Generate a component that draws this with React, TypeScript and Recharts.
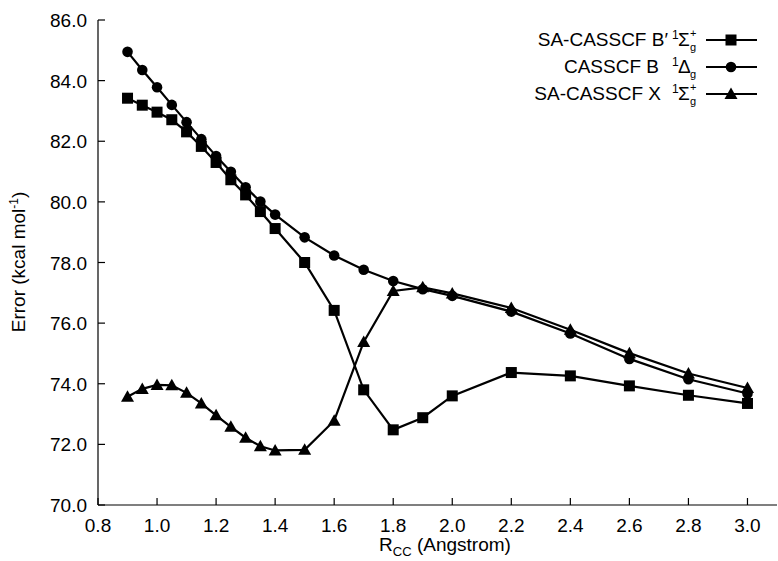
import React from "react";
import { LineChart, Line, XAxis, YAxis } from "recharts";

const rcc = [0.9, 0.95, 1.0, 1.05, 1.1, 1.15, 1.2, 1.25, 1.3, 1.35, 1.4, 1.5, 1.6, 1.7, 1.8, 1.9, 2.0, 2.2, 2.4, 2.6, 2.8, 3.0];
const saBPrime = [83.42, 83.19, 82.96, 82.71, 82.31, 81.83, 81.3, 80.73, 80.23, 79.68, 79.12, 78.0, 76.42, 73.8, 72.48, 72.88, 73.6, 74.37, 74.26, 73.93, 73.62, 73.35];
const casB = [84.95, 84.35, 83.78, 83.2, 82.63, 82.07, 81.51, 80.99, 80.48, 80.01, 79.58, 78.83, 78.23, 77.76, 77.39, 77.12, 76.9, 76.38, 75.66, 74.82, 74.15, 73.68];
const saX = [73.57, 73.83, 73.96, 73.95, 73.7, 73.35, 72.96, 72.58, 72.22, 71.94, 71.8, 71.82, 72.78, 75.38, 77.06, 77.18, 76.98, 76.5, 75.78, 75.01, 74.34, 73.86];

const xTicks = [0.8, 1.0, 1.2, 1.4, 1.6, 1.8, 2.0, 2.2, 2.4, 2.6, 2.8, 3.0];
const yTicks = [70, 72, 74, 76, 78, 80, 82, 84, 86];

const data = rcc.map((r, i) => ({ r, bp: saBPrime[i], b: casB[i], x: saX[i] }));

const FONT = "'Liberation Sans', Arial, Helvetica, sans-serif";
const FS = 19;

const Square = ({ cx, cy }: any) => <rect x={cx - 5.5} y={cy - 5.5} width={11} height={11} fill="#000" />;
const Circle = ({ cx, cy }: any) => <circle cx={cx} cy={cy} r={5.3} fill="#000" />;
const Triangle = ({ cx, cy }: any) => (
  <polygon points={`${cx},${cy - 6.5} ${cx - 6.5},${cy + 5} ${cx + 6.5},${cy + 5}`} fill="#000" />
);

const BottomTick = ({ x, y, payload }: any) => (
  <g>
    <line x1={x} y1={y} x2={x} y2={y - 7} stroke="#000" strokeWidth={1.2} />
    <text x={x} y={y + 27} textAnchor="middle" fontFamily={FONT} fontSize={FS} fill="#000">
      {payload.value.toFixed(1)}
    </text>
  </g>
);
const TopTick = ({ x, y }: any) => <line x1={x} y1={y} x2={x} y2={y + 7} stroke="#000" strokeWidth={1.2} />;
const LeftTick = ({ x, y, payload }: any) => (
  <g>
    <line x1={x} y1={y} x2={x + 7} y2={y} stroke="#000" strokeWidth={1.2} />
    <text x={x - 11} y={y + 7} textAnchor="end" fontFamily={FONT} fontSize={FS} fill="#000">
      {payload.value.toFixed(1)}
    </text>
  </g>
);
const RightTick = ({ x, y }: any) => <line x1={x} y1={y} x2={x - 7} y2={y} stroke="#000" strokeWidth={1.2} />;

const legendRows = [
  { name: "SA-CASSCF B\u2032", nameEnd: 668, sym: "\u03A3", plus: true, Marker: Square, y: 40 },
  { name: "CASSCF B", nameEnd: 659, sym: "\u0394", plus: false, Marker: Circle, y: 67 },
  { name: "SA-CASSCF X", nameEnd: 661, sym: "\u03A3", plus: true, Marker: Triangle, y: 94 },
];

const LegendBox = () => (
  <svg width={778} height={120} style={{ position: "absolute", left: 0, top: 0, pointerEvents: "none" }}>
    {legendRows.map(({ name, nameEnd, sym, plus, Marker, y }) => (
      <g key={name} fontFamily={FONT} fill="#000">
        <text x={nameEnd} y={y + 6} textAnchor="end" fontSize={FS}>
          {name}
        </text>
        <text x={672} y={y - 1} fontSize={12}>1</text>
        <text x={678} y={y + 6} fontSize={FS}>{sym}</text>
        <text x={690} y={y + 11} fontSize={11}>g</text>
        {plus && (
          <text x={690} y={y - 3} fontSize={11}>
            +
          </text>
        )}
        <line x1={706} y1={y} x2={757} y2={y} stroke="#000" strokeWidth={2.2} />
        <Marker cx={731} cy={y} />
      </g>
    ))}
  </svg>
);

export default function App() {
  return (
    <div style={{ position: "absolute", left: 0, top: 0, width: 778, height: 561, background: "#fff" }}>
      <LineChart width={778} height={561} data={data} margin={{ top: 20, right: 1, left: 38, bottom: 16 }}>
        <XAxis
          xAxisId="bottom"
          dataKey="r"
          type="number"
          domain={[0.8, 3.1]}
          ticks={xTicks}
          allowDataOverflow
          height={40}
          tickSize={0}
          tickMargin={0}
          tick={<BottomTick />}
          axisLine={{ stroke: "#000", strokeWidth: 1.2 }}
          label={{
            content: () => (
              <text x={445} y={551} textAnchor="middle" fontFamily={FONT} fontSize={FS} fill="#000">
                R<tspan dy={5} fontSize={13}>CC</tspan>
                <tspan dy={-5}> (Angstrom)</tspan>
              </text>
            ),
          }}
        />
        <XAxis
          xAxisId="top"
          orientation="top"
          dataKey="r"
          type="number"
          domain={[0.8, 3.1]}
          ticks={xTicks}
          allowDataOverflow
          height={0}
          tickSize={0}
          tickMargin={0}
          tick={<TopTick />}
          axisLine={{ stroke: "#000", strokeWidth: 1.4 }}
        />
        <YAxis
          yAxisId="left"
          type="number"
          domain={[70, 86]}
          ticks={yTicks}
          width={60}
          tickSize={0}
          tickMargin={0}
          tick={<LeftTick />}
          axisLine={{ stroke: "#000", strokeWidth: 1.2 }}
          label={{
            content: () => (
              <text
                x={25}
                y={262}
                transform="rotate(-90 25 262)"
                textAnchor="middle"
                fontFamily={FONT}
                fontSize={FS}
                fill="#000"
              >
                Error (kcal mol<tspan dy={-7} fontSize={12}>-1</tspan>
                <tspan dy={7}>)</tspan>
              </text>
            ),
          }}
        />
        <YAxis
          yAxisId="right"
          orientation="right"
          type="number"
          domain={[70, 86]}
          ticks={yTicks}
          width={0}
          tickSize={0}
          tickMargin={0}
          tick={<RightTick />}
          axisLine={{ stroke: "#999", strokeWidth: 1 }}
        />
        <Line xAxisId="bottom" yAxisId="left" dataKey="bp" stroke="#000" strokeWidth={2.2} dot={<Square />} isAnimationActive={false} />
        <Line xAxisId="bottom" yAxisId="left" dataKey="b" stroke="#000" strokeWidth={2.2} dot={<Circle />} isAnimationActive={false} />
        <Line xAxisId="bottom" yAxisId="left" dataKey="x" stroke="#000" strokeWidth={2.2} dot={<Triangle />} isAnimationActive={false} />
      </LineChart>
      <LegendBox />
    </div>
  );
}
